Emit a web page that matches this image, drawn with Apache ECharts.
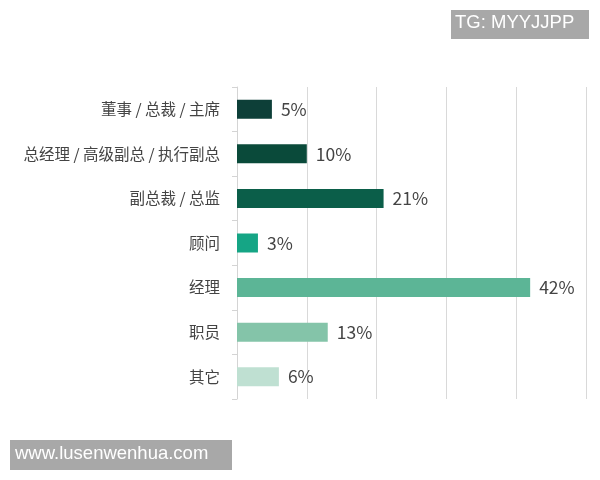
<!DOCTYPE html>
<html><head><meta charset="utf-8">
<script src="https://cdn.jsdelivr.net/npm/echarts@6/dist/echarts.min.js"></script>
<style>html,body{margin:0;padding:0;background:#fff}#c{width:600px;height:480px}</style>
</head><body><div id="c"></div>
<script>
var categories = ['董事 / 总裁 / 主席','总经理 / 高级副总 / 执行副总','副总裁 / 总监','顾问','经理','职员','其它'];
var values = [5, 10, 21, 3, 42, 13, 6];
var barColors = ['#0d3f38','#0a4a3a','#0b5e49','#15a585','#5cb596','#84c4a9','#bfe0d2'];
var xTicks = [0, 10, 20, 30, 40, 50];

var chart = echarts.init(document.getElementById('c'), null, {renderer:'canvas'});
chart.setOption({
  animation: false,
  backgroundColor: '#fff',
  grid: {left: 237, right: 14, top: 87, bottom: 81, containLabel: false},
  xAxis: {
    type: 'value', min: xTicks[0], max: xTicks[xTicks.length-1], interval: 10,
    axisLabel: {show: false}, axisTick: {show: false}, axisLine: {show: false},
    splitLine: {show: true, lineStyle: {color: '#d9d9d9', width: 1}}
  },
  yAxis: {
    type: 'category', data: categories, inverse: true,
    axisLine: {show: true, lineStyle: {color: '#d4d4d4'}},
    axisTick: {show: true, length: 5, lineStyle: {color: '#d4d4d4'}},
    axisLabel: {color: '#444', fontSize: 15.5, margin: 17, fontFamily: '"Noto Sans CJK SC", sans-serif'}
  },
  series: [{
    type: 'bar', barWidth: 19,
    data: values.map(function(v, i){ return {value: v, itemStyle: {color: barColors[i]}}; }),
    label: {show: true, position: 'right', distance: 9, formatter: '{c}%', color: '#444', fontSize: 17.5, fontFamily: '"Noto Sans CJK SC", sans-serif'}
  }],
  graphic: [
    {type: 'rect', left: 451, top: 10, shape: {width: 138, height: 29}, style: {fill: '#a8a8a8'}},
    {type: 'text', left: 455, top: 13, style: {text: 'TG: MYYJJPP', fill: '#fff', fontSize: 18.5, fontFamily: 'Liberation Sans, Arial, sans-serif'}},
    {type: 'rect', left: 10, top: 440, shape: {width: 222, height: 30}, style: {fill: '#a8a8a8'}},
    {type: 'text', left: 15, top: 444, style: {text: 'www.lusenwenhua.com', fill: '#fff', fontSize: 18.5, fontFamily: 'Liberation Sans, Arial, sans-serif'}}
  ]
});
</script></body></html>
